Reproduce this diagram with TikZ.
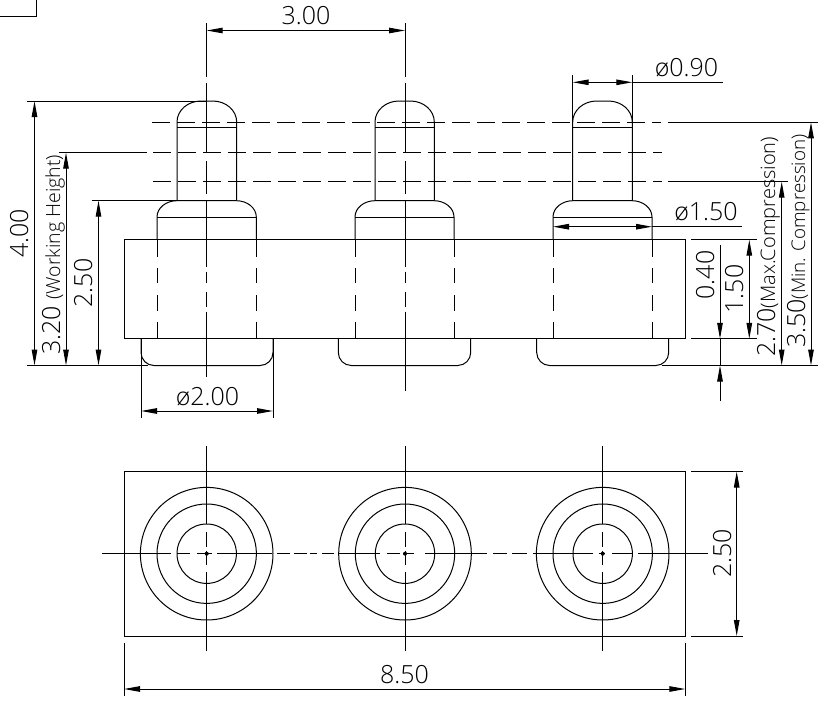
\documentclass[tikz,border=0pt]{standalone}
\usepackage{fontspec}
\setmainfont{Open Sans}[UprightFont=* Light]
\usetikzlibrary{arrows.meta}
\tikzset{
  part/.style={black,line width=1pt},
  hiddenline/.style={part,dash pattern=on 18pt off 7pt},
  hiddenpin/.style={part,dash pattern=on 17pt off 11pt on 15pt off 12pt on 15.7pt off 11pt on 18pt off 0pt},
  centerpin/.style={part,dash pattern=on 54pt off 6pt on 70pt off 8pt on 33pt off 6pt on 66.7pt off 5pt on 11pt off 9pt on 15pt off 5pt on 90pt off 0pt},
  dimline/.style={part,{Triangle[length=16pt,width=5.5pt]}-{Triangle[length=16pt,width=5.5pt]}},
  dimend/.style={part,-{Triangle[length=16pt,width=5.5pt]}},
  dimtext/.style={inner sep=0pt,font=\fontsize{25}{25}\selectfont},
  dimup/.style={dimtext,rotate=90}
}
\newcommand{\smallnote}[1]{\fontsize{#1}{#1}\selectfont}
\begin{document}
\begin{tikzpicture}[x=1pt,y=1pt]
\useasboundingbox (0,0) rectangle (839,-707);

\draw [part] (0,-16) -- (36,-16) -- (36,0);
\draw [part] (124,-239.7) rectangle (685,-338.8);

\draw [part] (157,-239.7) -- (157,-217) arc (180:90:20 and 16.3) -- (236.3,-200.7) arc (90:0:20 and 16.3) -- (256.3,-239.7);
\draw [part] (157,-217) -- (256.3,-217);
\draw [part] (177,-200.7) -- (177,-122) arc (180:90:24 and 21) -- (212.7,-101) arc (90:0:24 and 21) -- (236.7,-200.7);
\draw [part] (177,-127.7) -- (236.7,-127.7);
\draw [hiddenpin] (157,-240) -- (157,-339);
\draw [hiddenpin] (256.3,-240) -- (256.3,-339);
\draw [part] (141,-339) -- (141,-352.5) arc (180:270:13) -- (260,-365.5) arc (270:360:13) -- (273,-339);
\draw [centerpin] (206.7,-23) -- (206.7,-377);

\draw [part] (355,-239.7) -- (355,-217) arc (180:90:20 and 16.3) -- (434,-200.7) arc (90:0:20 and 16.3) -- (454,-239.7);
\draw [part] (355,-217) -- (454,-217);
\draw [part] (375,-200.7) -- (375,-122) arc (180:90:24 and 21) -- (410.3,-101) arc (90:0:24 and 21) -- (434.3,-200.7);
\draw [part] (375,-127.7) -- (434.3,-127.7);
\draw [hiddenpin] (355,-240) -- (355,-339);
\draw [hiddenpin] (454,-240) -- (454,-339);
\draw [part] (338.3,-339) -- (338.3,-352.5) arc (180:270:13) -- (457.7,-365.5) arc (270:360:13) -- (470.7,-339);
\draw [centerpin] (405,-23) -- (405,-391);

\draw [part] (553,-239.7) -- (553,-217) arc (180:90:20 and 16.3) -- (632,-200.7) arc (90:0:20 and 16.3) -- (652,-239.7);
\draw [part] (553,-217) -- (652,-217);
\draw [part] (572.7,-200.7) -- (572.7,-122) arc (180:90:24 and 21) -- (608.3,-101) arc (90:0:24 and 21) -- (632.3,-200.7);
\draw [part] (572.7,-127.7) -- (632.3,-127.7);
\draw [hiddenpin] (553,-240) -- (553,-339);
\draw [hiddenpin] (652,-240) -- (652,-339);
\draw [part] (536.7,-339) -- (536.7,-352.5) arc (180:270:13) -- (655.7,-365.5) arc (270:360:13) -- (668.7,-339);

\draw [hiddenline] (152,-122.3) -- (661,-122.3);
\draw [part] (668,-122.3) -- (818,-122.3);
\draw [part] (59,-152.7) -- (147,-152.7);
\draw [hiddenline] (153,-152.7) -- (662,-152.7);
\draw [hiddenline] (153,-181.7) -- (662,-181.7);
\draw [part] (668,-181.7) -- (788,-181.7);

\draw [part] (27,-101) -- (206.7,-101);
\draw [part] (27,-365.5) -- (148,-365.5);
\draw [part] (91.5,-200.7) -- (177,-200.7);
\draw [part] (661.7,-365.5) -- (818,-365.5);
\draw [part] (691,-239.7) -- (756.7,-239.7);
\draw [part] (691,-338.8) -- (756.7,-338.8);
\draw [part] (141,-339) -- (141,-418);
\draw [part] (273,-339) -- (273,-418);
\draw [part] (572.7,-75) -- (572.7,-122);
\draw [part] (632.3,-75) -- (632.3,-122);

\draw [dimline] (206.7,-30.5) -- (405,-30.5);
\draw [dimline] (34.5,-101) -- (34.5,-365.5);
\draw [dimline] (66,-152.7) -- (66,-365.5);
\draw [dimline] (98.5,-200.7) -- (98.5,-365.5);
\draw [dimline] (141,-411) -- (273,-411);
\draw [dimline] (572.7,-82.3) -- (632.3,-82.3);
\draw [part] (632.3,-82.3) -- (722.7,-82.3);
\draw [dimline] (553,-226.7) -- (652,-226.7);
\draw [part] (652,-226.7) -- (742,-226.7);
\draw [dimend] (720,-245) -- (720,-338.8);
\draw [dimend] (720,-401) -- (720,-365.5);
\draw [part] (720,-338.8) -- (720,-365.5);
\draw [dimline] (749.3,-239.7) -- (749.3,-338.8);
\draw [dimline] (781.7,-181.7) -- (781.7,-365.5);
\draw [dimline] (811,-122.3) -- (811,-365.5);

\node [dimtext,anchor=base] (topPitch) at (306,-24.5) {3.00};
\node [dimup,anchor=base] (totalHeight) at (28,-233.5) {4.00};
\node [dimup,anchor=base west] (workHeight) at (60,-355) {3.20 {\smallnote{19.5}(Working Height)}};
\node [dimup,anchor=base] (bodyHeight) at (92,-283) {2.50};
\node [dimtext,anchor=base] (footDia) at (207.5,-405.5) {ø2.00};
\node [dimtext,anchor=base] (tipDia) at (686.5,-76) {ø0.90};
\node [dimtext,anchor=base] (bodyDia) at (706,-220) {ø1.50};
\node [dimup,anchor=base] (footGap) at (714,-275) {0.40};
\node [dimup,anchor=base] (blockHeight) at (743,-289) {1.50};
\node [dimup,anchor=base west] (maxComp) at (775,-357) {2.70{\smallnote{20}(Max.Compression)}};
\node [dimup,anchor=base west] (minComp) at (805,-348) {3.50{\smallnote{18.8}(Min. Compression)}};

\draw [part] (124,-471.5) rectangle (685.3,-636);
\draw [part] (206.7,-553.7) circle (66.3);
\draw [part] (206.7,-553.7) circle (49.7);
\draw [part] (206.7,-553.7) circle (29.7);
\fill [black] (206.7,-553.7) circle (2);
\draw [part] (206.7,-446) -- (206.7,-524) (206.7,-531.7) -- (206.7,-546.7) (206.7,-551) -- (206.7,-565) (206.7,-571.7) -- (206.7,-650.7);
\draw [part] (405,-553.7) circle (66.3);
\draw [part] (405,-553.7) circle (49.7);
\draw [part] (405,-553.7) circle (29.7);
\fill [black] (405,-553.7) circle (2);
\draw [part] (405,-446) -- (405,-524) (405,-531.7) -- (405,-546.7) (405,-551) -- (405,-565) (405,-571.7) -- (405,-650.7);
\draw [part] (602.7,-553.7) circle (66.3);
\draw [part] (602.7,-553.7) circle (49.7);
\draw [part] (602.7,-553.7) circle (29.7);
\fill [black] (602.7,-553.7) circle (2);
\draw [part] (602.7,-446) -- (602.7,-524) (602.7,-531.7) -- (602.7,-546.7) (602.7,-551) -- (602.7,-565) (602.7,-571.7) -- (602.7,-650.7);
\draw [part] (102,-553.7) -- (171,-553.7) (177,-553.7) -- (190,-553.7) (197,-553.7) -- (212,-553.7) (217,-553.7) -- (272,-553.7) (277,-553.7) -- (290,-553.7) (294,-553.7) -- (307,-553.7) (310,-553.7) -- (317,-553.7) (322,-553.7) -- (334,-553.7) (338,-553.7) -- (380,-553.7) (387,-553.7) -- (400,-553.7) (403,-553.7) -- (414,-553.7) (425,-553.7) -- (487,-553.7) (493,-553.7) -- (507,-553.7) (512,-553.7) -- (527,-553.7) (533,-553.7) -- (593,-553.7) (599,-553.7) -- (605,-553.7) (612,-553.7) -- (632,-553.7) (638,-553.7) -- (708,-553.7);

\draw [part] (691,-471.5) -- (743,-471.5);
\draw [part] (691,-636) -- (743,-636);
\draw [part] (124,-642.7) -- (124,-696);
\draw [part] (685.3,-642.7) -- (685.3,-696);
\draw [dimline] (736.7,-471.5) -- (736.7,-636);
\draw [dimline] (124,-689) -- (685.3,-689);
\node [dimup,anchor=base] (plateDepth) at (731,-553.5) {2.50};
\node [dimtext,anchor=base] (plateWidth) at (404.5,-683.3) {8.50};
\end{tikzpicture}
\end{document}
